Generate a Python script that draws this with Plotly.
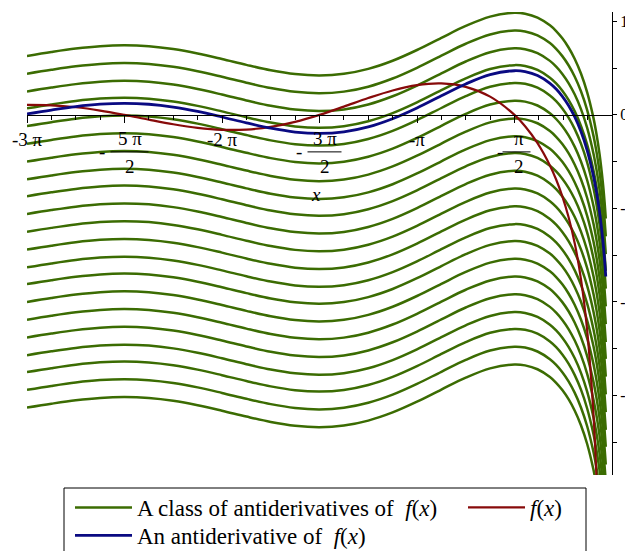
import math
import plotly.graph_objects as go

PI = math.pi

# sample abscissae (x <= 0)
X = [-9.4248, -9.0321, -8.6394, -8.2467, -7.8540, -7.4613, -7.0686, -6.6759,
     -6.2832, -5.8905, -5.4978, -5.1051, -4.7124, -4.3197, -3.9270, -3.5343,
     -3.1416, -2.7489, -2.3562, -1.9635, -1.5708, -1.4, -1.2, -1.0, -0.9, -0.8,
     -0.7, -0.6, -0.5, -0.4, -0.3, -0.25, -0.2, -0.15, -0.12, -0.1]

# blue curve: an antiderivative of f(x)
ANTIDERIV = [0.0106, 0.0521, 0.0888, 0.1144, 0.1238, 0.1137, 0.0838, 0.0365,
             -0.0226, -0.0854, -0.1423, -0.1831, -0.1984, -0.1813, -0.1284, -0.0412,
             0.0737, 0.2037, 0.3306, 0.4303, 0.4720, 0.4620, 0.4205, 0.3374, 0.2761,
             0.1983, 0.1005, -0.0223, -0.1778, -0.3788, -0.6492, -0.8247, -1.0422,
             -1.3255, -1.5466, -1.7279]

# red curve: f(x)
F_VALUES = [0.1061, 0.1023, 0.0818, 0.0464, 0.0000, -0.0513, -0.1000, -0.1384,
            -0.1592, -0.1568, -0.1286, -0.0750, 0.0000, 0.0886, 0.1801, 0.2614,
            0.3183, 0.3361, 0.3001, 0.1949, 0.0000, -0.1214, -0.3020, -0.5403, -0.6907,
            -0.8709, -1.0926, -1.3756, -1.7552, -2.3027, -3.1845, -3.8756, -4.9003,
            -6.5918, -8.2734, -9.9500]

# green curves: constants of integration
OFFSETS = [0.62, 0.43, 0.24, 0.06, -0.13, -0.32, -0.51, -0.70, -0.88, -1.07, -1.26,
           -1.45, -1.64, -1.82, -2.01, -2.20, -2.39, -2.58, -2.76, -2.95, -3.14]

X_TICK_MULT = [-3, -2.5, -2, -1.5, -1, -0.5]
X_TICK_TEXT = ["-3\u00a0π", "5\u00a0π|2", "-2\u00a0π", "3\u00a0π|2", "-π", "π|2"]
Y_TICKS = [-3, -2, -1, 0, 1]
Y_TICK_TEXT = ["-3", "-2", "-1", "0", "1"]

GREEN = "#3b6c02"
RED = "#870a0a"
BLUE = "#0a0a82"
FONT = "Liberation Serif"

Y_MIN, Y_MAX = -3.85, 1.10
# plot area spans x 27..612, y 12..475 on the page (page body adds an 8 px offset)
PL, PT, PW, PH = 27, 12, 585, 463

fig = go.Figure()
for i, c in enumerate(OFFSETS):
    fig.add_trace(go.Scatter(
        x=X, y=[v + c for v in ANTIDERIV], mode="lines",
        line=dict(color=GREEN, width=2.5, shape="spline"),
        name="A class of antiderivatives of\u00a0\u00a0<i>f</i>(<i>x</i>)",
        legendgroup="cls", showlegend=(i == 0), legend="legend",
        hoverinfo="skip"))
fig.add_trace(go.Scatter(
    x=X, y=F_VALUES, mode="lines",
    line=dict(color=RED, width=2.2, shape="spline"),
    name="<i>f</i>(<i>x</i>)", legend="legend2", hoverinfo="skip"))
fig.add_trace(go.Scatter(
    x=X, y=ANTIDERIV, mode="lines",
    line=dict(color=BLUE, width=2.8, shape="spline"),
    name="An antiderivative of\u00a0\u00a0<i>f</i>(<i>x</i>)", legend="legend3",
    hoverinfo="skip"))

annotations = []
shapes = []
lab_font = dict(family=FONT, size=19, color="black")
frac_layout = {-2.5: (-23, -14, 24, 5), -1.5: (-21, -12, 22, 5), -0.5: (-15, -12, 16, 4)}
for m, txt in zip(X_TICK_MULT, X_TICK_TEXT):
    xv = m * PI
    if "|" not in txt:
        annotations.append(dict(x=xv, y=0, xref="x", yref="y", text=txt,
                                showarrow=False, yshift=-25, font=lab_font))
    else:
        num, den = txt.split("|")
        mx, b0, b1, nx = frac_layout[m]
        annotations.append(dict(x=xv, y=0, xref="x", yref="y", text=num,
                                showarrow=False, yshift=-24, xshift=nx, font=lab_font))
        annotations.append(dict(x=xv, y=0, xref="x", yref="y", text=den,
                                showarrow=False, yshift=-52, xshift=nx, font=lab_font))
        annotations.append(dict(x=xv, y=0, xref="x", yref="y", text="-",
                                showarrow=False, yshift=-37, xshift=mx, font=lab_font))
        shapes.append(dict(type="line", xref="x", yref="y",
                           xsizemode="pixel", ysizemode="pixel",
                           xanchor=xv, yanchor=0, x0=b0, x1=b1, y0=-37, y1=-37,
                           line=dict(color="black", width=1)))
annotations.append(dict(x=-1.5 * PI, y=0, xref="x", yref="y", text="<i>x</i>",
                        showarrow=False, yshift=-80, xshift=-4, font=lab_font))


def px_x(p):
    return (p - PL) / PW


def px_y(p):
    return (PT + PH - p) / PH


# legend frame
shapes.append(dict(type="rect", xref="paper", yref="paper",
                   x0=px_x(64), x1=px_x(586), y0=px_y(488), y1=px_y(575),
                   line=dict(color="black", width=1), fillcolor="rgba(0,0,0,0)"))

leg_font = dict(family=FONT, size=23, color="black")


def leg(xpix, ypix):
    return dict(x=px_x(xpix), y=px_y(ypix), xanchor="left", yanchor="top",
                orientation="h", bgcolor="rgba(0,0,0,0)", borderwidth=0,
                font=leg_font, itemwidth=57)


fig.update_layout(
    width=633, height=551,
    margin=dict(l=PL - 8, r=633 - (PL - 8) - PW, t=PT - 8, b=551 - (PT - 8) - PH,
                autoexpand=False),
    paper_bgcolor="white", plot_bgcolor="white",
    showlegend=True,
    legend=leg(70, 486),
    legend2=leg(463, 486),
    legend3=leg(70, 514),
    xaxis=dict(range=[-3 * PI, 0], anchor="free",
               position=(0 - Y_MIN) / (Y_MAX - Y_MIN),
               showline=True, linecolor="black", linewidth=1,
               ticks="outside", tickvals=[m * PI for m in X_TICK_MULT],
               ticklen=7, tickcolor="black", tickwidth=1,
               showticklabels=False, showgrid=False, zeroline=False,
               minor=dict(tickvals=[k * PI / 8 for k in range(-24, 0)],
                          ticks="outside", ticklen=4, tickcolor="black",
                          tickwidth=1, showgrid=False)),
    yaxis=dict(range=[Y_MIN, Y_MAX], side="right", anchor="x",
               showline=True, linecolor="black", linewidth=1,
               ticks="outside", tickvals=Y_TICKS, ticktext=Y_TICK_TEXT,
               ticklen=4, tickcolor="black", tickwidth=1,
               tickfont=dict(family=FONT, size=16, color="black"),
               showgrid=False, zeroline=False,
               minor=dict(tickvals=[-3.5, -2.5, -1.5, -0.5, 0.5], ticks="outside",
                          ticklen=4, tickcolor="black", tickwidth=1, showgrid=False)),
    annotations=annotations,
    shapes=shapes,
)

fig.write_html("out.html")
